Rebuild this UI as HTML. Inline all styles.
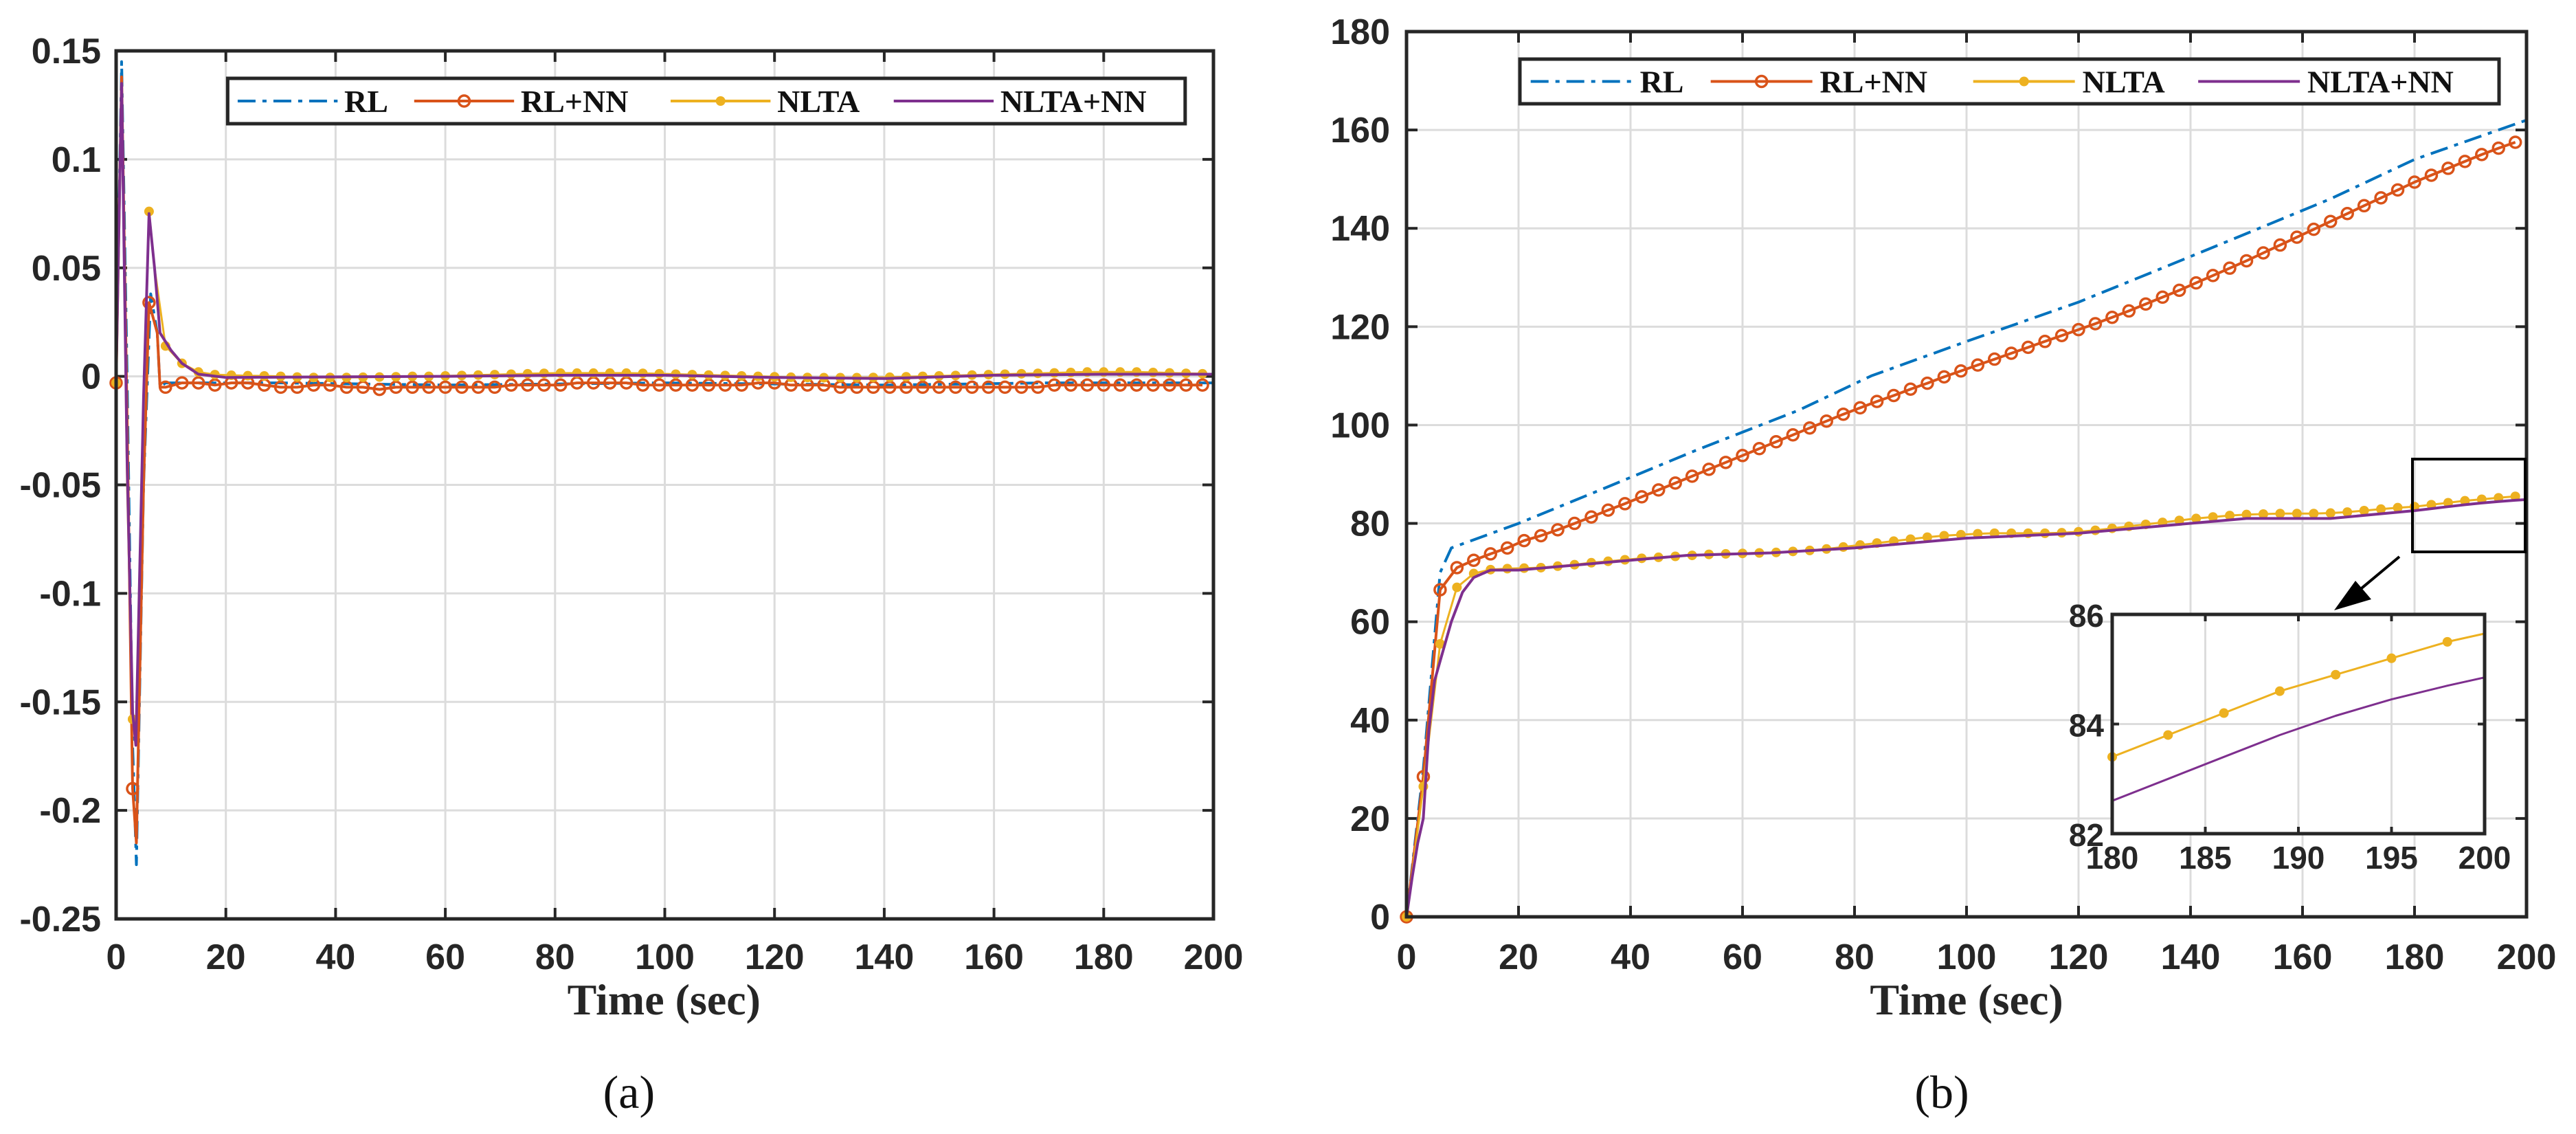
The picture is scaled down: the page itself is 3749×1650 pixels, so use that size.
<!DOCTYPE html>
<html><head><meta charset="utf-8">
<style>
html,body{margin:0;padding:0;background:#fff;}
svg{display:block;}
.tk{font-family:"Liberation Sans Narrow","Liberation Sans",sans-serif;font-weight:bold;font-size:52px;fill:#262626;}
.tki{font-family:"Liberation Sans Narrow","Liberation Sans",sans-serif;font-weight:bold;font-size:46px;fill:#262626;}
.lab{font-family:"Liberation Serif",serif;font-weight:bold;font-size:64px;fill:#262626;}
.leg{font-family:"Liberation Serif",serif;font-weight:bold;font-size:46px;fill:#111;}
.cap{font-family:"Liberation Serif",serif;font-size:68px;fill:#111;}
</style></head>
<body>
<svg id="fig" width="3749" height="1650" viewBox="0 0 3749 1650" xmlns="http://www.w3.org/2000/svg"></svg>
<script>
// ---------- data: chart (a) ----------
const aRlT = [0,1,2,3,3.7,5,6.3,7.5,8,9,30,60,100,140,170,200];
const aRlY = [0,0.145,0.0,-0.17,-0.225,-0.05,0.038,0.02,-0.005,-0.003,-0.003,-0.004,-0.003,-0.004,-0.003,-0.003];
const aRlnnT = [0,1,2,3,3.7,5,6,7.5,8,9];
const aRlnnY = [-0.003,0.138,-0.02,-0.19,-0.215,-0.05,0.034,0.02,-0.005,-0.005];
const aRlnnTail = [-0.003,-0.003,-0.004,-0.003,-0.003,-0.004,-0.005,-0.005,-0.004,-0.004,-0.005,-0.005,-0.006,-0.005,-0.005,-0.005,-0.005,-0.005,-0.005,-0.005,-0.004,-0.004,-0.004,-0.004,-0.003,-0.003,-0.003,-0.003,-0.004,-0.004,-0.004,-0.004,-0.004,-0.004,-0.004,-0.003,-0.003,-0.004,-0.004,-0.004,-0.005,-0.005,-0.005,-0.005,-0.005,-0.005,-0.005,-0.005,-0.005,-0.005,-0.005,-0.005,-0.005,-0.004,-0.004,-0.004,-0.004,-0.004,-0.004,-0.004,-0.004,-0.004,-0.004];
const aNltaT = [0,1,2,3,3.6,5,6,7,9];
const aNltaY = [-0.003,0.135,-0.05,-0.158,-0.168,-0.02,0.076,0.05,0.014];
const aNltaTail = [0.006,0.002,0.0008,0.0005,0.0003,0.0002,0,-0.0003,-0.0005,-0.0005,-0.0005,-0.0004,-0.0003,-0.0002,0,0,0.0002,0.0004,0.0006,0.0008,0.001,0.0012,0.0014,0.0015,0.0015,0.0015,0.0015,0.0015,0.0014,0.0012,0.001,0.0008,0.0006,0.0004,0.0002,0,-0.0002,-0.0004,-0.0005,-0.0006,-0.0006,-0.0006,-0.0005,-0.0004,-0.0002,0,0.0002,0.0004,0.0006,0.0008,0.001,0.0012,0.0014,0.0016,0.0018,0.002,0.002,0.002,0.002,0.0018,0.0016,0.0014,0.0012];
const aNnT = [0,1,2,3,3.6,5,6,7,8,10,12,15,20,60,80,100,120,140,160,180,200];
const aNnY = [0,0.135,-0.04,-0.155,-0.17,-0.01,0.075,0.05,0.02,0.012,0.006,0.001,-0.0005,0,0.0005,0.0005,-0.0005,-0.001,0.0005,0.001,0.001];
const aXTicks = [0,20,40,60,80,100,120,140,160,180,200];
const aYTicks = [0.15,0.1,0.05,0,-0.05,-0.1,-0.15,-0.2,-0.25];
const aYLabels = ["0.15","0.1","0.05","0","-0.05","-0.1","-0.15","-0.2","-0.25"];

// ---------- data: chart (b) ----------
const bRlT = [0,3,6,8,20,35,52,70,83,100,120,133,148,165,180,200];
const bRlY = [0,30,70,75,80,87,95,103,110,117,125,131,138,146,154,162];
const bRlnnHead = [0,28.5,66.5,71,72.5,73.8,75];
const bRlnnTail = [76.5,77.5,78.7,80,81.3,82.7,84,85.4,86.8,88.2,89.6,91,92.4,93.8,95.2,96.6,98,99.4,100.8,102.2,103.5,104.8,106,107.3,108.5,109.8,111,112.2,113.4,114.6,115.8,117,118.2,119.4,120.6,121.9,123.2,124.6,126,127.4,128.9,130.4,131.9,133.4,135,136.6,138.2,139.8,141.4,143,144.6,146.2,147.8,149.4,150.8,152.2,153.6,155,156.3,157.5];
const bNltaY = [0,26.5,55.5,67,69.8,70.6,70.8,70.9,71,71.3,71.6,72,72.3,72.6,72.9,73.1,73.3,73.5,73.7,73.8,73.9,74,74.1,74.3,74.5,74.8,75.2,75.6,76,76.4,76.8,77.2,77.5,77.7,77.9,78,78,78,78,78.1,78.3,78.6,79,79.4,79.8,80.2,80.6,81,81.3,81.6,81.8,81.9,82,82,82,82.1,82.3,82.6,82.9,83.2,83.4,83.8,84.2,84.6,84.9,85.2,85.5];
const bNnT = [0,1,2,3,4,5,6,8,10,12,15,20,35,50,65,80,100,120,135,150,165,180,183,186,189,192,195,198,200];
const bNnY = [0,8,15,20,38,48,52,60,66,69,70.5,70.5,72,73.5,74,75,77,78,79.5,81,81,82.6,83.0,83.4,83.8,84.15,84.45,84.7,84.85];
const bXTicks = [0,20,40,60,80,100,120,140,160,180,200];
const bYTicks = [0,20,40,60,80,100,120,140,160,180];
const insXTicks = [180,185,190,195,200];
const insYTicks = [82,84,86];

const C = {rl:"#0072BD", nn:"#D95319", nlta:"#EDB120", nlnn:"#7E2F8E", ax:"#262626", grid:"#dcdcdc"};
const svg = document.getElementById('fig');
const NS = "http://www.w3.org/2000/svg";
function mk(tag, attrs, parent){
  const e = document.createElementNS(NS, tag);
  for (const k in attrs) e.setAttribute(k, attrs[k]);
  (parent||svg).appendChild(e);
  return e;
}
function scale(d0,d1,r0,r1){return v => r0 + (v-d0)/(d1-d0)*(r1-r0);}

function axesFrame(g, L,T,R,B, sx, sy, xt, yt, ylabels, tickCls, tickLen, xlabY, ylabX){
  xt.forEach(v=>{ const x=sx(v);
    const gl=mk('line',{x1:x,y1:T,x2:x,y2:B,stroke:C.grid,'stroke-width':3},g);
     
  });
  yt.forEach(v=>{ const y=sy(v);
    const gl=mk('line',{x1:L,y1:y,x2:R,y2:y,stroke:C.grid,'stroke-width':3},g);
     
  });
  xt.forEach(v=>{ const x=sx(v);
    mk('line',{x1:x,y1:B,x2:x,y2:B-tickLen,stroke:C.ax,'stroke-width':4},g);
    mk('line',{x1:x,y1:T,x2:x,y2:T+tickLen,stroke:C.ax,'stroke-width':4},g);
    const t=mk('text',{x:x,y:xlabY,'text-anchor':'middle','class':tickCls},g);
    t.textContent=String(v);
     
  });
  yt.forEach((v,i)=>{ const y=sy(v);
    mk('line',{x1:L,y1:y,x2:L+tickLen,y2:y,stroke:C.ax,'stroke-width':4},g);
    mk('line',{x1:R,y1:y,x2:R-tickLen,y2:y,stroke:C.ax,'stroke-width':4},g);
    const t=mk('text',{x:ylabX,y:y+18,'text-anchor':'end','class':tickCls},g);
    t.textContent=ylabels?ylabels[i]:String(v);
     
  });
}
function frameBox(g,L,T,R,B){
  const r=mk('rect',{x:L,y:T,width:R-L,height:B-T,fill:'none',stroke:C.ax,'stroke-width':5},g);
   
}
function line(g, xs, ys, sx, sy, color, dash, name, w){
  const pts = xs.map((t,i)=>sx(t).toFixed(1)+','+sy(ys[i]).toFixed(1)).join(' ');
  const p=mk('polyline',{points:pts,fill:'none',stroke:color,'stroke-width':w||4,'stroke-linejoin':'round'},g);
  if(dash) p.setAttribute('stroke-dasharray',dash);
   
  return p;
}
function markers(g, xs, ys, sx, sy, color, kind, name, r){
  xs.forEach((t,i)=>{
    let m;
    if(kind==='o') m=mk('circle',{cx:sx(t),cy:sy(ys[i]),r:r||8,fill:'none',stroke:color,'stroke-width':3.5},g);
    else m=mk('circle',{cx:sx(t),cy:sy(ys[i]),r:r||7,fill:color},g);
     
  });
}
function legend(g, L,T,R,B, entries){
  const box=mk('rect',{x:L,y:T,width:R-L,height:B-T,fill:'#fff',stroke:C.ax,'stroke-width':5},g);
   
  const cy=(T+B)/2;
  entries.forEach(e=>{
    const eg=mk('g',{},g);
     
    const ln=mk('line',{x1:e.x0,y1:cy,x2:e.x1,y2:cy,stroke:e.c,'stroke-width':4},eg);
    if(e.dash) ln.setAttribute('stroke-dasharray',e.dash);
    if(e.m==='o') mk('circle',{cx:(e.x0+e.x1)/2,cy:cy,r:8,fill:'none',stroke:e.c,'stroke-width':3.5},eg);
    if(e.m==='.') mk('circle',{cx:(e.x0+e.x1)/2,cy:cy,r:7,fill:e.c},eg);
    const t=mk('text',{x:e.tx,y:cy+16,'class':'leg'},eg);
    t.textContent=e.label;
  });
}
const tailT = (arr,start)=>arr.map((_,i)=>start+3*i);

// ================= Chart (a) =================
{
  const g=mk('g',{});  
  const L=169,T=74,R=1766,B=1337;
  const sx=scale(0,200,L,R), sy=scale(0.15,-0.25,T,B);
  axesFrame(g,L,T,R,B,sx,sy,aXTicks,aYTicks,aYLabels,'tk',16,1410,147);
  const rlnnT=aRlnnT.concat(tailT(aRlnnTail,12)), rlnnY=aRlnnY.concat(aRlnnTail);
  const nlT=aNltaT.concat(tailT(aNltaTail,12)), nlY=aNltaY.concat(aNltaTail);
  const mT1=[],mY1=[]; rlnnT.forEach((t,i)=>{if(t%3===0){mT1.push(t);mY1.push(rlnnY[i]);}});
  const mT2=[],mY2=[]; nlT.forEach((t,i)=>{if(t%3===0){mT2.push(t);mY2.push(nlY[i]);}});
  line(g,aRlT,aRlY,sx,sy,C.rl,'26 10 6 10','series-rl');
  line(g,rlnnT,rlnnY,sx,sy,C.nn,null,'series-rl-nn');
  markers(g,mT1,mY1,sx,sy,C.nn,'o','marker-rl-nn');
  line(g,nlT,nlY,sx,sy,C.nlta,null,'series-nlta',3);
  markers(g,mT2,mY2,sx,sy,C.nlta,'.','marker-nlta');
  line(g,aNnT,aNnY,sx,sy,C.nlnn,null,'series-nlta-nn');
  frameBox(g,L,T,R,B);
  const X=z=>169+(z-139)*1.2117;
  legend(g,X(273),114,X(1423),180,[
    {x0:X(285),x1:X(405),tx:X(413),c:C.rl,dash:'26 10 6 10',label:'RL'},
    {x0:X(497),x1:X(617),tx:X(625),c:C.nn,m:'o',label:'RL+NN'},
    {x0:X(805),x1:X(925),tx:X(933),c:C.nlta,m:'.',label:'NLTA'},
    {x0:X(1073),x1:X(1193),tx:X(1201),c:C.nlnn,label:'NLTA+NN'}]);
  const xl=mk('text',{x:X(797),y:1476,'text-anchor':'middle','class':'lab'},g); xl.textContent='Time (sec)';
   
  const cp=mk('text',{x:X(755),y:1612,'text-anchor':'middle','class':'cap'},g); cp.textContent='(a)';
   
}

// ================= Chart (b) =================
{
  const g=mk('g',{});  
  const L=2047,T=46,R=3677,B=1334;
  const sx=scale(0,200,L,R), sy=scale(0,180,B,T);
  axesFrame(g,L,T,R,B,sx,sy,bXTicks,bYTicks,null,'tk',16,1410,2023);
  const rlnnY=bRlnnHead.concat(bRlnnTail), rlnnT=rlnnY.map((_,i)=>3*i);
  const nlT=bNltaY.map((_,i)=>3*i);
  line(g,bRlT,bRlY,sx,sy,C.rl,'26 10 6 10','series-rl');
  line(g,rlnnT,rlnnY,sx,sy,C.nn,null,'series-rl-nn');
  markers(g,rlnnT,rlnnY,sx,sy,C.nn,'o','marker-rl-nn');
  line(g,nlT,bNltaY,sx,sy,C.nlta,null,'series-nlta',3);
  markers(g,nlT,bNltaY,sx,sy,C.nlta,'.','marker-nlta');
  line(g,bNnT,bNnY,sx,sy,C.nlnn,null,'series-nlta-nn');
  frameBox(g,L,T,R,B);
  const X=z=>2047+(z-163)*1.2128;
  legend(g,2212,86,3637,151,[
    {x0:X(312),x1:X(434),tx:X(443),c:C.rl,dash:'26 10 6 10',label:'RL'},
    {x0:X(528),x1:X(650),tx:X(659),c:C.nn,m:'o',label:'RL+NN'},
    {x0:X(843),x1:X(965),tx:X(974),c:C.nlta,m:'.',label:'NLTA'},
    {x0:X(1113),x1:X(1235),tx:X(1244),c:C.nlnn,label:'NLTA+NN'}]);
  const zb=mk('rect',{x:3511,y:668,width:164,height:135,fill:'none',stroke:'#000','stroke-width':4},g);
   
  const ar=mk('g',{},g);  
  mk('line',{x1:3492,y1:810,x2:3420,y2:870,stroke:'#000','stroke-width':4},ar);
  mk('polygon',{points:'3397,888 3428,845 3451,872',fill:'#000'},ar);
  const iL=3074,iT=894,iR=3616,iB=1213;
  const ix=scale(180,200,iL,iR), iy=scale(82,86,iB,iT);
  const ig=mk('g',{},g);  
  mk('rect',{x:iL,y:iT,width:iR-iL,height:iB-iT,fill:'#fff'},ig);
  axesFrame(ig,iL,iT,iR,iB,ix,iy,insXTicks,insYTicks,null,'tki',10,1264,3062);
  const cT=[],cY=[]; nlT.forEach((t,i)=>{if(t>=180){cT.push(t);cY.push(bNltaY[i]);}});
  const nT=[],nY=[]; bNnT.forEach((t,i)=>{if(t>=180){nT.push(t);nY.push(bNnY[i]);}});
  line(ig,cT.concat([200]),cY.concat([85.65]),ix,iy,C.nlta,null,'inset-series-nlta',3);
  markers(ig,cT,cY,ix,iy,C.nlta,'.','inset-marker-nlta',7);
  line(ig,nT,nY,ix,iy,C.nlnn,null,'inset-series-nlta-nn',3);
  frameBox(ig,iL,iT,iR,iB);
  const xl=mk('text',{x:2862,y:1476,'text-anchor':'middle','class':'lab'},g); xl.textContent='Time (sec)';
   
  const cp=mk('text',{x:2826,y:1612,'text-anchor':'middle','class':'cap'},g); cp.textContent='(b)';
   
}
</script>
</body></html>
